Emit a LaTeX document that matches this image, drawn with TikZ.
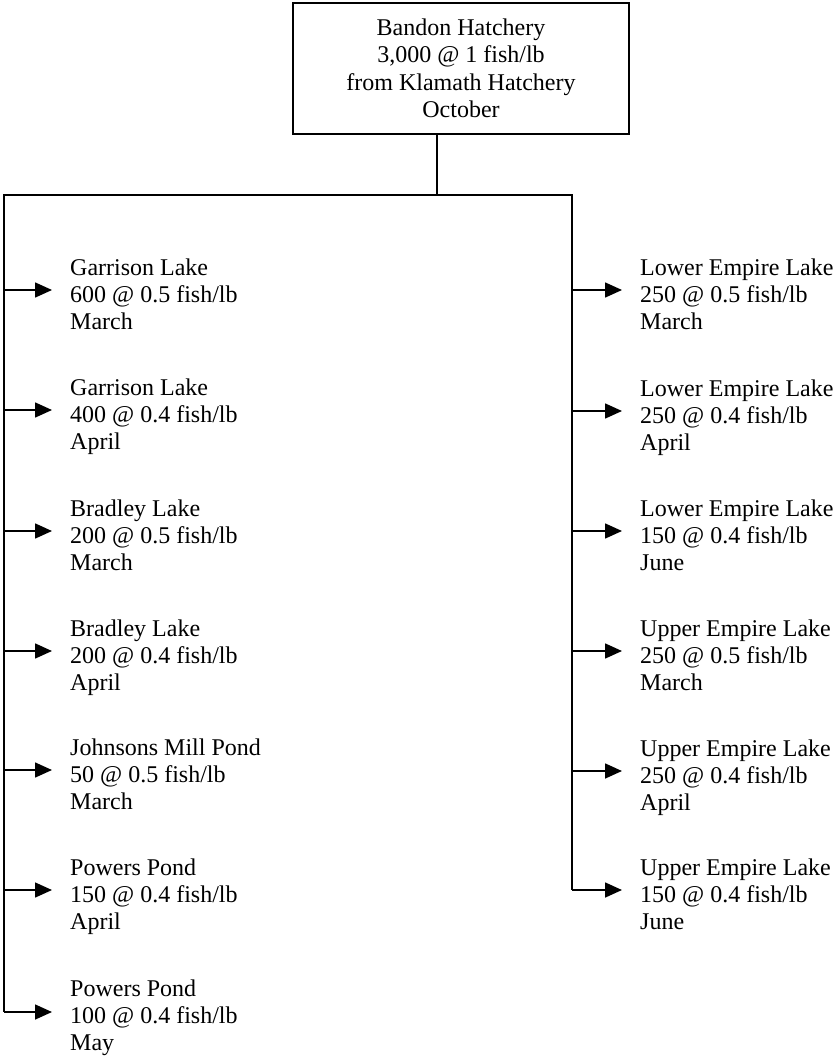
\documentclass[tikz,border=0pt]{standalone}
\usepackage{fontspec}
\setmainfont{Liberation Serif}
\usetikzlibrary{arrows.meta,calc}
\begin{document}
\begin{tikzpicture}[x=1pt,y=-1pt,
  conn/.style={line width=1.6pt},
  arr/.style={line width=1.6pt,-{Triangle[length=17pt,width=15pt]}},
  lbl/.style={anchor=north west,inner sep=0pt,align=left,font=\fontsize{24}{27}\selectfont},
  hatchbox/.style={draw,line width=1.8pt,minimum width=336pt,minimum height=131pt,inner sep=0pt,align=center,font=\fontsize{24}{27.5}\selectfont}]
\useasboundingbox (0,0) rectangle (837,1056);
\node[hatchbox] (hb) at (461,68.5) {Bandon Hatchery\\3,000 @ 1 fish/lb\\from Klamath Hatchery\\October};
\coordinate (drop) at (437,195);
\coordinate (busL) at (4,195);
\coordinate (busR) at (572,195);
% left column
\node[lbl] (l1) at (70,258.6) {Garrison Lake\\600 @ 0.5 fish/lb\\March};
\node[lbl] (l2) at (70,378.6) {Garrison Lake\\400 @ 0.4 fish/lb\\April};
\node[lbl] (l3) at (70,499.6) {Bradley Lake\\200 @ 0.5 fish/lb\\March};
\node[lbl] (l4) at (70,619.6) {Bradley Lake\\200 @ 0.4 fish/lb\\April};
\node[lbl] (l5) at (70,738.6) {Johnsons Mill Pond\\50 @ 0.5 fish/lb\\March};
\node[lbl] (l6) at (70,858.6) {Powers Pond\\150 @ 0.4 fish/lb\\April};
\node[lbl] (l7) at (70,980.1) {Powers Pond\\100 @ 0.4 fish/lb\\May};
% right column
\node[lbl] (r1) at (640,258.6) {Lower Empire Lake\\250 @ 0.5 fish/lb\\March};
\node[lbl] (r2) at (640,379.6) {Lower Empire Lake\\250 @ 0.4 fish/lb\\April};
\node[lbl] (r3) at (640,499.6) {Lower Empire Lake\\150 @ 0.4 fish/lb\\June};
\node[lbl] (r4) at (640,619.6) {Upper Empire Lake\\250 @ 0.5 fish/lb\\March};
\node[lbl] (r5) at (640,739.6) {Upper Empire Lake\\250 @ 0.4 fish/lb\\April};
\node[lbl] (r6) at (640,858.6) {Upper Empire Lake\\150 @ 0.4 fish/lb\\June};
% bus coordinates
\coordinate (la1) at (4,290);
\coordinate (la2) at (4,410);
\coordinate (la3) at (4,531);
\coordinate (la4) at (4,651);
\coordinate (la5) at (4,770);
\coordinate (la6) at (4,890);
\coordinate (la7) at (4,1012);
\coordinate (ra1) at (572,290);
\coordinate (ra2) at (572,411);
\coordinate (ra3) at (572,531);
\coordinate (ra4) at (572,651);
\coordinate (ra5) at (572,771);
\coordinate (ra6) at (572,890);
% trunk and bus
\draw[conn] (hb.south -| drop) -- (drop);
\draw[conn] (la1) -- (busL) -- (busR) -- (ra1);
\draw[conn] (la1) -- (la7);
\draw[conn] (ra1) -- (ra6);
% arrows
\foreach \i in {1,...,7} {
  \draw[arr] (la\i) -- ($(la\i -| l\i.west)+(-18,0)$);
}
\foreach \i in {1,...,6} {
  \draw[arr] (ra\i) -- ($(ra\i -| r\i.west)+(-18,0)$);
}
\end{tikzpicture}
\end{document}
